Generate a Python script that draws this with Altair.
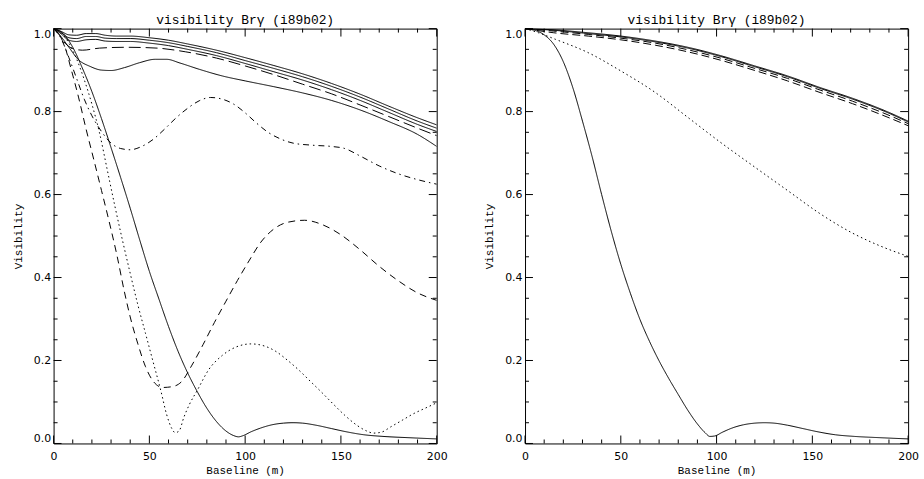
import altair as alt
import pandas as pd

# ---------------- data ----------------
TITLE = "visibility Brγ (i89b02)"

# Left panel
A_X = [0, 4, 8, 12, 17, 22, 27, 33, 40, 50, 60, 70, 85, 100, 115, 130, 145, 160, 175, 190, 200]
A_V = [1.0, 0.993, 0.985, 0.984, 0.988, 0.988, 0.984, 0.982, 0.982, 0.978, 0.972, 0.963, 0.948, 0.930, 0.911, 0.891, 0.868, 0.842, 0.813, 0.785, 0.768]
B_X = A_X
B_V = [1.0, 0.990, 0.978, 0.976, 0.981, 0.981, 0.977, 0.976, 0.976, 0.972, 0.966, 0.957, 0.942, 0.923, 0.904, 0.884, 0.861, 0.835, 0.806, 0.777, 0.760]
C_X = A_X
C_V = [1.0, 0.987, 0.972, 0.969, 0.973, 0.974, 0.970, 0.969, 0.969, 0.965, 0.959, 0.950, 0.935, 0.916, 0.896, 0.876, 0.853, 0.827, 0.798, 0.769, 0.752]
D_X = [0, 3, 6, 10, 15, 24, 38, 54, 69, 85, 100, 115, 130, 145, 160, 175, 190, 200]
D_V = [1.0, 0.985, 0.965, 0.952, 0.948, 0.953, 0.955, 0.953, 0.944, 0.929, 0.910, 0.889, 0.866, 0.843, 0.816, 0.788, 0.760, 0.742]
E_X = [0, 4, 8, 13, 19, 25, 30, 37, 45, 53, 59, 66, 76, 88, 100, 115, 130, 145, 160, 175, 190, 200]
E_V = [1.0, 0.980, 0.955, 0.925, 0.909, 0.900, 0.899, 0.906, 0.918, 0.926, 0.926, 0.917, 0.902, 0.886, 0.874, 0.860, 0.845, 0.827, 0.804, 0.776, 0.745, 0.716]
F_X = [0, 4, 8, 12, 16, 20, 25, 30, 35, 40, 46, 52, 58, 64, 70, 76, 82, 88, 94, 100, 106, 112, 118, 125, 135, 145, 152, 160, 170, 180, 190, 200]
F_V = [1.0, 0.975, 0.930, 0.880, 0.830, 0.790, 0.752, 0.724, 0.711, 0.708, 0.716, 0.733, 0.758, 0.785, 0.808, 0.826, 0.834, 0.830, 0.818, 0.797, 0.772, 0.750, 0.735, 0.724, 0.719, 0.716, 0.711, 0.693, 0.669, 0.650, 0.636, 0.625]
G_X = [0, 3, 6, 9, 13, 17, 21, 25, 29, 33, 37, 40, 44, 48, 52, 57, 62, 67, 72, 78, 84, 90, 96, 102, 108, 115, 122, 131, 140, 150, 160, 170, 180, 190, 200]
G_V = [1.0, 0.985, 0.955, 0.905, 0.835, 0.757, 0.684, 0.610, 0.535, 0.455, 0.365, 0.305, 0.240, 0.185, 0.150, 0.135, 0.137, 0.150, 0.187, 0.238, 0.292, 0.343, 0.393, 0.440, 0.484, 0.517, 0.533, 0.538, 0.528, 0.503, 0.467, 0.427, 0.392, 0.363, 0.345]
H_X = [0, 4, 8, 12, 16, 20, 24, 28, 32, 36, 40, 44, 48, 52, 56, 59, 61.5, 63.5, 65.5, 68, 71, 75, 81, 88, 95, 103, 110, 116, 122, 128, 134, 140, 146, 152, 158, 163, 167, 171, 176, 182, 188, 194, 200]
H_V = [1.0, 0.990, 0.965, 0.927, 0.877, 0.818, 0.748, 0.660, 0.572, 0.489, 0.410, 0.334, 0.265, 0.196, 0.127, 0.070, 0.038, 0.026, 0.030, 0.063, 0.095, 0.128, 0.178, 0.212, 0.232, 0.240, 0.235, 0.222, 0.201, 0.177, 0.150, 0.123, 0.095, 0.068, 0.045, 0.031, 0.025, 0.027, 0.040, 0.056, 0.072, 0.085, 0.098]
I_X = [0, 5, 10, 15, 20, 25, 30, 35, 40, 45, 50, 55, 60, 65, 70, 75, 80, 85, 90, 94, 96.5, 99, 103, 108, 114, 120, 125, 130, 137, 145, 153, 162, 172, 185, 200]
I_V = [1.0, 0.988, 0.955, 0.905, 0.848, 0.783, 0.713, 0.641, 0.567, 0.490, 0.415, 0.348, 0.282, 0.222, 0.170, 0.125, 0.085, 0.053, 0.030, 0.019, 0.016, 0.019, 0.028, 0.037, 0.045, 0.049, 0.050, 0.049, 0.044, 0.036, 0.028, 0.021, 0.017, 0.014, 0.011]

# Right panel
R_X = [0, 15, 33, 50, 68, 85, 102, 120, 137, 154, 171, 189, 200]
R1_V = [1.0, 0.997, 0.990, 0.982, 0.970, 0.955, 0.935, 0.910, 0.886, 0.858, 0.832, 0.800, 0.777]
R2_V = [1.0, 0.996, 0.988, 0.980, 0.968, 0.953, 0.933, 0.908, 0.884, 0.856, 0.830, 0.798, 0.775]
R3_V = [1.0, 0.994, 0.986, 0.977, 0.965, 0.949, 0.929, 0.904, 0.880, 0.852, 0.825, 0.793, 0.771]
R4_V = [1.0, 0.990, 0.982, 0.973, 0.960, 0.944, 0.924, 0.899, 0.874, 0.846, 0.819, 0.787, 0.766]
R5_X = [0, 7, 16, 33, 50, 68, 85, 102, 120, 137, 154, 171, 186, 200]
R5_V = [1.0, 0.990, 0.974, 0.942, 0.898, 0.846, 0.786, 0.726, 0.666, 0.610, 0.554, 0.507, 0.475, 0.451]
R6_X = [0, 5, 10, 15, 20, 25, 30, 35, 40, 45, 50, 55, 60, 65, 70, 75, 80, 85, 90, 94, 96.5, 99, 103, 108, 114, 120, 125, 130, 137, 145, 153, 162, 172, 185, 200]
R6_V = [1.0, 0.996, 0.985, 0.962, 0.920, 0.857, 0.777, 0.692, 0.600, 0.512, 0.432, 0.362, 0.299, 0.246, 0.199, 0.157, 0.118, 0.080, 0.047, 0.026, 0.017, 0.018, 0.027, 0.037, 0.045, 0.049, 0.050, 0.049, 0.044, 0.036, 0.028, 0.021, 0.017, 0.014, 0.011]

X_MAJOR = [0, 50, 100, 150, 200]
X_MINOR = [10, 20, 30, 40, 60, 70, 80, 90, 110, 120, 130, 140, 160, 170, 180, 190]
Y_MAJOR = [0.0, 0.2, 0.4, 0.6, 0.8, 1.0]
Y_MINOR = [0.05, 0.1, 0.15, 0.25, 0.3, 0.35, 0.45, 0.5, 0.55, 0.65, 0.7, 0.75, 0.85, 0.9, 0.95]

STYLE_DOMAIN = ["solid", "longdash", "dashdot", "dash", "dot", "rdash"]
STYLE_RANGE = [[1, 0], [12, 5], [6, 4, 1.5, 4], [7, 5], [1.5, 3], [8, 4]]

LEFT_CURVES = [
    ("A", "solid", A_X, A_V), ("B", "solid", B_X, B_V), ("C", "solid", C_X, C_V),
    ("D", "longdash", D_X, D_V), ("E", "solid", E_X, E_V), ("F", "dashdot", F_X, F_V),
    ("G", "dash", G_X, G_V), ("H", "dot", H_X, H_V), ("I", "solid", I_X, I_V),
]
RIGHT_CURVES = [
    ("R1", "solid", R_X, R1_V), ("R2", "solid", R_X, R2_V),
    ("R3", "rdash", R_X, R3_V), ("R4", "rdash", R_X, R4_V),
    ("R5", "dot", R5_X, R5_V), ("R6", "solid", R6_X, R6_V),
]

# ---------------- layout / style ----------------
W, H = 386, 418
MAJ, MIN = 8, 4
LABEL_FONT = "DejaVu Sans"
TITLE_FONT = "Liberation Mono"


def curves_df(curves):
    rows = []
    for name, style, xs, vs in curves:
        for x, v in zip(xs, vs):
            rows.append({"x": x, "v": v, "curve": name, "style": style})
    return pd.DataFrame(rows)


xscale = alt.Scale(domain=[0, 200], nice=False, zero=False)
yscale = alt.Scale(domain=[0, 1], nice=False, zero=False)


def panel(curves):
    df = curves_df(curves)
    lines = alt.Chart(df).mark_line(color="black", strokeWidth=1, interpolate="monotone", clip=True).encode(
        x=alt.X("x:Q", scale=xscale,
                axis=alt.Axis(title="Baseline (m)", values=X_MAJOR, ticks=False, domain=False, grid=False,
                              labelFlush=False, labelOverlap=False, labelPadding=7, titlePadding=3,
                              labelFont=LABEL_FONT, labelFontSize=11, titleFont=TITLE_FONT,
                              titleFontSize=11, titleFontWeight="normal", labelColor="black",
                              titleColor="black")),
        y=alt.Y("v:Q", scale=yscale,
                axis=alt.Axis(title="Visibility", values=Y_MAJOR, format=".1f", ticks=False, domain=False,
                              grid=False, labelFlush=True, labelOverlap=False, labelPadding=3,
                              titlePadding=10, labelFont=LABEL_FONT, labelFontSize=11,
                              titleFont=TITLE_FONT, titleFontSize=11, titleFontWeight="normal",
                              labelColor="black", titleColor="black")),
        strokeDash=alt.StrokeDash("style:N", scale=alt.Scale(domain=STYLE_DOMAIN, range=STYLE_RANGE),
                                  legend=None),
        detail="curve:N",
    )
    layers = [lines]
    for vals, ln in ((X_MAJOR, MAJ), (X_MINOR, MIN)):
        d = pd.DataFrame({"x": vals})
        layers.append(alt.Chart(d).mark_rule(color="black", strokeWidth=1).encode(
            x=alt.X("x:Q", scale=xscale), y=alt.value(H), y2=alt.value(H - ln)))
        layers.append(alt.Chart(d).mark_rule(color="black", strokeWidth=1).encode(
            x=alt.X("x:Q", scale=xscale), y=alt.value(0), y2=alt.value(ln)))
    for vals, ln in ((Y_MAJOR, MAJ), (Y_MINOR, MIN)):
        d = pd.DataFrame({"v": vals})
        layers.append(alt.Chart(d).mark_rule(color="black", strokeWidth=1).encode(
            y=alt.Y("v:Q", scale=yscale), x=alt.value(0), x2=alt.value(ln)))
        layers.append(alt.Chart(d).mark_rule(color="black", strokeWidth=1).encode(
            y=alt.Y("v:Q", scale=yscale), x=alt.value(W), x2=alt.value(W - ln)))
    return alt.layer(*layers).properties(
        width=W, height=H,
        title=alt.TitleParams(TITLE, font=TITLE_FONT, fontSize=13, fontWeight="normal", color="black",
                              anchor="middle", baseline="alphabetic", offset=-9),
    )


chart = alt.hconcat(panel(LEFT_CURVES), panel(RIGHT_CURVES), spacing=89, bounds="flush").properties(
    padding={"left": 12, "top": 12, "right": 5, "bottom": 5},
    background="white",
).configure_view(stroke="black", strokeWidth=1)

chart.save("out.html", embed_options={"renderer": "svg", "actions": False})
